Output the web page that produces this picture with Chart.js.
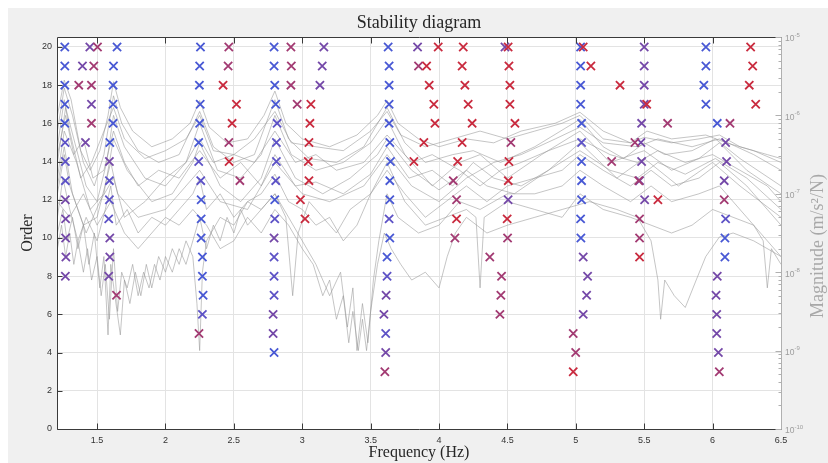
<!DOCTYPE html>
<html>
<head>
<meta charset="utf-8">
<title>Stability diagram</title>
<script src="https://cdn.jsdelivr.net/npm/chart.js@4.4.1/dist/chart.umd.min.js"></script>
<style>
  html, body { margin: 0; padding: 0; background: #fff; }
  #wrap { width: 828px; height: 463px; }
</style>
</head>
<body>
<div id="wrap"><canvas id="stab" width="828" height="463"></canvas></div>
<script>
// axis ticks
const freqTicks = [1.5, 2, 2.5, 3, 3.5, 4, 4.5, 5, 5.5, 6, 6.5];
const orderTicks = [0, 2, 4, 6, 8, 10, 12, 14, 16, 18, 20];
const magDecades = [-10, -9, -8, -7, -6, -5];

// poles [frequency Hz, model order], grouped by marker colour
const polesBlue = [
  [1.264, 20], [1.264, 19], [1.264, 18], [1.264, 17], [1.264, 16],
  [1.646, 20], [1.62, 19], [1.617, 18], [1.617, 17], [1.617, 16], [1.593, 15],
  [2.256, 20], [2.25, 19], [2.248, 18], [2.254, 17], [2.25, 16], [2.243, 15],
  [2.261, 12], [2.261, 11], [2.261, 10], [2.27, 9], [2.27, 8], [2.275, 7],
  [2.794, 20], [2.794, 19], [2.799, 18], [2.806, 17], [2.799, 12], [2.794, 4],
  [3.628, 20], [3.635, 19], [3.635, 18], [3.635, 17], [3.635, 16], [3.64, 15],
  [3.645, 14], [3.64, 13], [3.64, 12], [3.64, 10], [3.62, 9],
  [5.035, 20], [5.035, 19], [5.035, 18], [5.035, 17], [5.042, 16], [5.042, 14],
  [5.042, 13], [5.042, 12], [5.035, 11], [5.037, 10],
  [5.951, 20], [5.951, 19], [5.936, 18], [5.951, 17], [6.034, 16], [6.09, 10], [6.09, 9]
];
const polesBluePurple = [
  [1.266, 15], [1.268, 14], [1.268, 13],
  [1.59, 13], [1.59, 12], [1.585, 11],
  [2.243, 14], [2.258, 13], [2.27, 6],
  [2.816, 16], [2.811, 15], [2.811, 14], [2.806, 13], [2.799, 11], [2.794, 9], [2.794, 8], [2.794, 7],
  [3.635, 11], [3.62, 8], [3.61, 5],
  [5.042, 15],
  [6.095, 11]
];
const polesPurple = [
  [1.268, 12], [1.27, 11], [1.27, 10], [1.272, 9], [1.268, 8],
  [1.447, 20], [1.393, 19], [1.459, 17], [1.415, 15],
  [1.59, 14], [1.593, 10], [1.593, 9], [1.585, 8],
  [2.794, 10], [2.787, 6], [2.787, 5],
  [3.158, 20], [3.146, 19], [3.129, 18],
  [3.613, 7], [3.597, 6], [3.61, 4],
  [3.843, 20], [4.482, 20], [4.505, 12],
  [5.054, 9], [5.086, 8], [5.079, 7], [5.054, 6],
  [5.5, 20], [5.5, 19], [5.5, 18], [5.5, 17], [5.481, 16], [5.476, 15], [5.481, 14],
  [5.466, 13], [5.503, 12],
  [6.095, 15], [6.102, 14], [6.085, 13], [6.034, 8], [6.025, 7], [6.03, 6], [6.03, 5], [6.042, 4]
];
const polesRedPurple = [
  [1.503, 20], [1.476, 19], [1.366, 18], [1.459, 18], [1.459, 16],
  [1.642, 7], [2.245, 5],
  [2.463, 20], [2.458, 19], [2.463, 15], [2.544, 13],
  [2.917, 20], [2.92, 19], [2.917, 18], [2.963, 17],
  [3.604, 3], [3.85, 19],
  [4.104, 13], [4.128, 12], [4.116, 10],
  [4.371, 9], [4.457, 8], [4.452, 7], [4.445, 6],
  [4.525, 15], [4.501, 10],
  [4.981, 5], [4.999, 4], [5.262, 14],
  [5.671, 16], [5.432, 15], [5.46, 13], [5.466, 11], [5.466, 10],
  [6.127, 16], [6.085, 12], [6.049, 3]
];
const polesRed = [
  [2.421, 18], [2.519, 17], [2.487, 16], [2.465, 14],
  [3.063, 17], [3.056, 16], [3.049, 15], [3.044, 14], [3.049, 13], [2.987, 12], [3.02, 11],
  [3.994, 20], [3.909, 19], [3.928, 18], [3.962, 17], [3.97, 16], [3.889, 15], [3.816, 14],
  [4.177, 20], [4.169, 19], [4.189, 18], [4.213, 17], [4.242, 16], [4.169, 15], [4.136, 14], [4.128, 11],
  [4.505, 20], [4.511, 19], [4.518, 18], [4.518, 17], [4.555, 16], [4.511, 14], [4.506, 13], [4.498, 11],
  [5.054, 20], [5.11, 19], [5.323, 18], [4.981, 3],
  [5.518, 17], [5.6, 12], [5.466, 9],
  [6.278, 20], [6.293, 19], [6.268, 18], [6.315, 17]
];

// measured FRFs [frequency Hz, log10 magnitude]
const frf01 = [[1.21,-6.0],[1.26,-5.55],[1.31,-5.8],[1.38,-6.45],[1.45,-6.7],[1.52,-6.45],[1.58,-6.0],[1.62,-5.57],[1.67,-5.9],[1.76,-6.2],[1.9,-6.4],[2.05,-6.3],[2.18,-6.1],[2.25,-5.81],[2.32,-6.15],[2.45,-6.35],[2.6,-6.3],[2.72,-6.0],[2.8,-5.69],[2.88,-6.1],[3.0,-6.3],[3.2,-6.4],[3.4,-6.25],[3.55,-6.0],[3.62,-5.81],[3.7,-6.1],[3.85,-6.3],[4.0,-6.4],[4.2,-6.3],[4.4,-6.35],[4.6,-6.2],[4.85,-6.1],[5.03,-5.96],[5.2,-6.2],[5.4,-6.35],[5.5,-6.28],[5.7,-6.35],[5.9,-6.3],[6.05,-6.25],[6.2,-6.4],[6.4,-6.5],[6.5,-6.55]];
const frf02 = [[1.21,-6.2],[1.26,-5.65],[1.32,-6.0],[1.4,-6.6],[1.48,-6.9],[1.55,-6.5],[1.62,-5.75],[1.68,-6.1],[1.8,-6.45],[1.95,-6.6],[2.1,-6.5],[2.25,-5.95],[2.35,-6.4],[2.5,-6.6],[2.65,-6.5],[2.8,-5.8],[2.9,-6.3],[3.05,-6.55],[3.25,-6.6],[3.45,-6.4],[3.62,-5.9],[3.75,-6.35],[3.9,-6.6],[4.1,-6.5],[4.25,-6.45],[4.45,-6.6],[4.7,-6.4],[5.03,-6.05],[5.2,-6.4],[5.35,-6.55],[5.5,-6.35],[5.65,-6.5],[5.85,-6.45],[6.02,-6.3],[6.2,-6.55],[6.5,-6.9]];
const frf03 = [[1.21,-6.6],[1.27,-5.9],[1.33,-6.3],[1.42,-6.9],[1.5,-7.1],[1.57,-6.6],[1.62,-6.0],[1.7,-6.4],[1.85,-6.8],[2.0,-6.9],[2.15,-6.6],[2.25,-6.1],[2.38,-6.7],[2.55,-6.8],[2.7,-6.5],[2.8,-6.0],[2.92,-6.5],[3.1,-6.7],[3.3,-6.6],[3.5,-6.35],[3.62,-6.05],[3.75,-6.5],[3.95,-6.9],[4.15,-6.6],[4.3,-6.5],[4.5,-6.8],[4.75,-6.5],[5.03,-6.2],[5.25,-6.6],[5.5,-6.45],[5.7,-6.7],[5.9,-6.55],[6.05,-6.35],[6.25,-6.7],[6.5,-7.0]];
const frf04 = [[1.21,-6.8],[1.26,-6.2],[1.35,-6.6],[1.45,-7.2],[1.55,-7.0],[1.62,-6.3],[1.72,-6.7],[1.9,-7.1],[2.05,-7.0],[2.2,-6.6],[2.25,-6.35],[2.4,-6.9],[2.55,-7.1],[2.7,-6.8],[2.8,-6.3],[2.95,-6.8],[3.15,-7.0],[3.35,-6.8],[3.55,-6.5],[3.62,-6.3],[3.8,-6.7],[4.0,-6.95],[4.2,-6.7],[4.35,-6.9],[4.55,-7.0],[4.8,-6.7],[5.03,-6.35],[5.3,-6.8],[5.5,-6.55],[5.75,-6.9],[6.0,-6.6],[6.2,-6.9],[6.5,-7.3]];
const frf05 = [[1.21,-7.0],[1.26,-6.5],[1.3,-6.9],[1.4,-7.4],[1.5,-7.3],[1.6,-6.6],[1.65,-7.0],[1.8,-7.3],[2.0,-7.2],[2.25,-6.7],[2.4,-7.1],[2.6,-7.2],[2.8,-6.6],[3.0,-7.0],[3.2,-7.1],[3.45,-6.9],[3.62,-6.5],[3.8,-6.9],[4.0,-7.1],[4.2,-6.8],[4.4,-6.6],[4.6,-6.5],[4.85,-6.3],[5.03,-6.15],[5.2,-6.35],[5.45,-6.4],[5.6,-6.3],[5.85,-6.4],[6.05,-6.3],[6.3,-6.5],[6.5,-6.7]];
const frf06 = [[1.21,-6.4],[1.26,-5.8],[1.3,-6.2],[1.38,-6.8],[1.46,-6.6],[1.55,-6.2],[1.62,-5.9],[1.7,-6.3],[1.85,-6.55],[2.0,-6.45],[2.15,-6.3],[2.25,-6.0],[2.35,-6.45],[2.5,-6.5],[2.65,-6.3],[2.8,-5.95],[2.92,-6.35],[3.1,-6.4],[3.3,-6.45],[3.5,-6.2],[3.62,-5.95],[3.72,-6.25],[3.9,-6.4],[4.1,-6.3],[4.3,-6.2],[4.5,-6.3],[4.7,-6.2],[4.9,-6.1],[5.03,-6.0],[5.2,-6.3],[5.4,-6.35],[5.52,-6.2],[5.7,-6.3],[5.95,-6.25],[6.1,-6.35],[6.3,-6.45],[6.5,-6.6]];
const frf07 = [[1.21,-7.3],[1.25,-6.8],[1.3,-7.2],[1.36,-7.6],[1.42,-7.3],[1.5,-7.6],[1.56,-7.2],[1.6,-6.9],[1.64,-7.4],[1.72,-7.2],[1.8,-7.5],[1.9,-7.3],[2.0,-7.4],[2.1,-7.2],[2.2,-7.0],[2.25,-6.8],[2.3,-7.2],[2.4,-7.0],[2.5,-7.3],[2.6,-7.1],[2.7,-7.0],[2.8,-6.75],[2.9,-7.1],[3.0,-7.2],[3.1,-7.4],[3.2,-7.3],[3.3,-7.6],[3.4,-7.4],[3.5,-7.0],[3.62,-6.7],[3.75,-7.0],[3.9,-7.3],[4.05,-7.1],[4.2,-6.9],[4.35,-7.1],[4.5,-6.9],[4.7,-6.8],[4.9,-6.7],[5.03,-6.5],[5.2,-6.7],[5.4,-6.9],[5.55,-6.7],[5.7,-6.9],[5.9,-6.8],[6.05,-6.6],[6.25,-6.9],[6.4,-7.2],[6.5,-7.4]];
const frf08 = [[1.21,-7.7],[1.24,-7.4],[1.27,-7.8],[1.3,-7.5],[1.33,-7.9],[1.36,-7.6],[1.4,-8.0],[1.43,-7.7],[1.46,-8.1],[1.5,-7.8],[1.53,-8.3],[1.56,-7.9],[1.59,-8.6],[1.62,-7.7],[1.65,-8.5],[1.68,-8.0],[1.72,-8.2],[1.76,-7.9],[1.8,-8.3],[1.84,-8.0],[1.88,-8.2],[1.92,-7.9],[1.96,-8.1],[2.0,-7.8],[2.05,-8.0],[2.1,-7.7],[2.15,-7.9],[2.2,-7.6],[2.25,-7.3],[2.3,-7.7],[2.35,-7.4],[2.4,-7.6],[2.45,-7.3],[2.5,-7.5],[2.55,-7.2],[2.6,-7.4],[2.7,-7.2],[2.8,-7.0],[2.9,-7.3],[3.0,-7.6],[3.1,-7.9],[3.2,-8.3],[3.28,-8.0],[3.33,-8.7],[3.37,-8.2],[3.4,-9.0],[3.44,-8.4],[3.48,-8.9],[3.52,-8.1],[3.56,-7.6],[3.62,-7.0],[3.7,-7.3],[3.85,-7.5],[4.0,-7.4],[4.15,-7.1],[4.3,-7.2],[4.5,-7.0],[4.7,-7.0],[4.9,-6.9],[5.03,-6.7],[5.2,-6.9],[5.4,-7.1],[5.55,-6.9],[5.7,-7.1],[5.9,-7.0],[6.05,-6.9],[6.25,-7.3],[6.4,-7.6],[6.5,-7.8]];
const frf09 = [[1.21,-7.5],[1.25,-7.2],[1.28,-7.6],[1.32,-7.3],[1.36,-7.7],[1.4,-7.4],[1.44,-7.9],[1.48,-7.5],[1.52,-8.2],[1.55,-7.8],[1.58,-8.8],[1.6,-7.9],[1.63,-8.3],[1.67,-8.8],[1.7,-8.1],[1.74,-8.4],[1.78,-8.0],[1.82,-8.3],[1.86,-7.9],[1.9,-8.2],[1.95,-7.8],[2.0,-8.0],[2.05,-7.7],[2.1,-7.9],[2.15,-7.6],[2.2,-7.8],[2.23,-8.4],[2.25,-9.0],[2.27,-8.0],[2.3,-7.6],[2.4,-7.3],[2.5,-7.4],[2.6,-7.1],[2.7,-7.2],[2.8,-7.0],[2.88,-7.3],[2.93,-8.3],[2.97,-7.5],[3.05,-7.1],[3.15,-7.3],[3.25,-7.5],[3.35,-7.2],[3.5,-7.0],[3.62,-6.6],[3.75,-7.1],[3.9,-7.4],[4.05,-7.3],[4.2,-7.2],[4.27,-7.3],[4.3,-8.2],[4.33,-7.3],[4.5,-7.1],[4.7,-7.2],[4.9,-7.3],[5.03,-7.0],[5.2,-7.2],[5.4,-7.3],[5.55,-7.4],[5.7,-7.5],[5.85,-7.4],[6.0,-7.2],[6.15,-7.3],[6.3,-7.4],[6.37,-7.6],[6.4,-8.2],[6.43,-7.7],[6.5,-7.9]];
const frf10 = [[1.21,-7.1],[1.3,-7.3],[1.4,-7.0],[1.5,-7.4],[1.6,-7.1],[1.7,-7.5],[1.8,-7.7],[1.9,-7.5],[2.0,-7.3],[2.1,-7.4],[2.2,-7.2],[2.3,-7.4],[2.4,-7.7],[2.5,-7.6],[2.6,-7.3],[2.7,-7.5],[2.8,-7.2],[2.9,-7.4],[3.0,-7.7],[3.08,-7.9],[3.15,-8.3],[3.2,-8.1],[3.25,-8.6],[3.3,-8.3],[3.34,-8.9],[3.37,-8.5],[3.41,-9.0],[3.44,-8.6],[3.47,-9.0],[3.5,-8.5],[3.55,-7.9],[3.6,-7.5],[3.65,-7.7],[3.72,-7.9],[3.8,-8.1],[3.9,-8.0],[4.0,-8.2],[4.06,-7.8],[4.12,-7.5],[4.2,-7.3],[4.35,-7.5],[4.5,-7.4],[4.7,-7.3],[4.9,-7.2],[5.1,-7.1],[5.3,-7.2],[5.45,-7.3],[5.55,-7.6],[5.6,-8.1],[5.62,-8.6],[5.65,-8.1],[5.72,-8.3],[5.8,-8.45],[5.88,-8.1],[5.95,-7.8],[6.05,-7.55],[6.15,-7.5],[6.3,-7.6],[6.5,-7.8]];
const frf11 = [[1.21,-6.9],[1.26,-6.4],[1.32,-7.0],[1.42,-7.5],[1.52,-7.1],[1.62,-6.8],[1.7,-7.3],[1.85,-7.1],[2.0,-6.8],[2.15,-6.6],[2.25,-6.3],[2.35,-6.6],[2.5,-6.5],[2.65,-6.6],[2.8,-6.2],[2.95,-6.6],[3.1,-6.5],[3.25,-6.7],[3.45,-6.6],[3.62,-6.25],[3.8,-6.6],[3.95,-6.5],[4.15,-6.7],[4.3,-6.9],[4.45,-6.7],[4.6,-6.6],[4.8,-6.45],[5.03,-6.3],[5.25,-6.5],[5.45,-6.6],[5.6,-6.45],[5.8,-6.6],[6.0,-6.5],[6.2,-6.7],[6.4,-6.9],[6.5,-7.1]];
const frf12 = [[1.21,-6.5],[1.27,-6.0],[1.33,-6.5],[1.4,-6.3],[1.47,-6.8],[1.55,-6.7],[1.62,-6.2],[1.7,-6.6],[1.8,-6.9],[1.95,-6.7],[2.1,-6.8],[2.25,-6.45],[2.4,-6.8],[2.55,-6.6],[2.7,-6.9],[2.8,-6.5],[2.95,-6.9],[3.1,-6.85],[3.3,-7.0],[3.5,-6.75],[3.62,-6.4],[3.78,-6.8],[3.95,-6.7],[4.1,-6.9],[4.25,-6.6],[4.4,-6.8],[4.6,-6.9],[4.8,-6.7],[5.03,-6.45],[5.25,-6.7],[5.45,-6.8],[5.6,-6.6],[5.8,-6.75],[6.02,-6.55],[6.25,-6.8],[6.5,-7.2]];

const frfCurves = [frf01, frf02, frf03, frf04, frf05, frf06, frf07, frf08, frf09, frf10, frf11, frf12];

const poleGroups = [
  { pts: polesRed, color: '#c92a3e' },
  { pts: polesRedPurple, color: '#a23a72' },
  { pts: polesPurple, color: '#7448a8' },
  { pts: polesBluePurple, color: '#5d52c6' },
  { pts: polesBlue, color: '#4858d4' },
];

const serif = '"Liberation Serif", "Times New Roman", serif';
const sans = '"Liberation Sans", Arial, sans-serif';

// matlab style frame, inward ticks, titles
const figureDecor = {
  id: 'figureDecor',
  beforeDraw(chart) {
    const { ctx, chartArea: a } = chart;
    ctx.save();
    ctx.fillStyle = '#ffffff';
    ctx.fillRect(0, 0, chart.width, chart.height);
    ctx.fillStyle = '#f0f0f0';
    ctx.fillRect(8, 8, chart.width - 8, chart.height - 8);
    ctx.fillStyle = '#ffffff';
    ctx.fillRect(a.left, a.top, a.right - a.left, a.bottom - a.top);
    ctx.restore();
  },
  afterDraw(chart) {
    const { ctx, chartArea: a, scales } = chart;
    const L = Math.round(a.left) + 0.5, R = Math.round(a.right) + 0.5;
    const T = Math.round(a.top) + 0.5, B = Math.round(a.bottom) + 0.5;
    ctx.save();
    ctx.lineWidth = 1;

    ctx.strokeStyle = '#3a3a3a';
    ctx.beginPath();
    ctx.moveTo(R, T); ctx.lineTo(L, T); ctx.lineTo(L, B); ctx.lineTo(R, B);
    freqTicks.forEach(v => {
      const x = Math.round(scales.x.getPixelForValue(v)) + 0.5;
      ctx.moveTo(x, B); ctx.lineTo(x, B - 6);
      ctx.moveTo(x, T); ctx.lineTo(x, T + 6);
    });
    orderTicks.forEach(v => {
      const y = Math.round(scales.y.getPixelForValue(v)) + 0.5;
      ctx.moveTo(L, y); ctx.lineTo(L + 5, y);
    });
    ctx.stroke();

    // right log axis
    ctx.strokeStyle = '#b0b0b0';
    ctx.beginPath();
    ctx.moveTo(R, T); ctx.lineTo(R, B);
    magDecades.forEach(n => {
      for (let k = 1; k <= 9; k++) {
        const v = k * Math.pow(10, n);
        if (v > 1.0001e-5) break;
        const y = Math.round(scales.y2.getPixelForValue(v)) + 0.5;
        ctx.moveTo(R, y); ctx.lineTo(R - (k === 1 ? 6 : 3), y);
      }
    });
    ctx.stroke();

    ctx.fillStyle = '#9c9c9c';
    ctx.textAlign = 'left';
    ctx.textBaseline = 'middle';
    magDecades.forEach(n => {
      const y = scales.y2.getPixelForValue(Math.pow(10, n));
      ctx.font = '8.5px ' + sans;
      ctx.fillText('10', a.right + 4, y + 2);
      const w = ctx.measureText('10').width;
      ctx.font = '6px ' + sans;
      ctx.fillText('-' + Math.abs(n), a.right + 4 + w, y - 2);
    });

    // titles
    const cx = (a.left + a.right) / 2, cy = (a.top + a.bottom) / 2;
    ctx.fillStyle = '#262626';
    ctx.textAlign = 'center';
    ctx.textBaseline = 'alphabetic';
    ctx.font = '18px ' + serif;
    ctx.fillText('Stability diagram', cx, 28);
    ctx.font = '16px ' + serif;
    ctx.fillText('Frequency (Hz)', cx, 457);

    ctx.textBaseline = 'middle';
    ctx.save();
    ctx.translate(28, cy);
    ctx.rotate(-Math.PI / 2);
    ctx.fillText('Order', 0, 0);
    ctx.restore();

    ctx.save();
    ctx.fillStyle = '#a8a8a8';
    ctx.font = '18px ' + serif;
    ctx.translate(818, 246);
    ctx.rotate(-Math.PI / 2);
    ctx.fillText('Magnitude (m/s\u00B2/N)', 0, 0);
    ctx.restore();

    ctx.restore();
  }
};

const datasets = [];
poleGroups.forEach(g => {
  datasets.push({
    data: g.pts.map(([f, o]) => ({ x: f, y: o })),
    yAxisID: 'y',
    showLine: false,
    pointStyle: 'crossRot',
    pointRadius: 5.8,
    pointBorderWidth: 1.8,
    pointBorderColor: g.color,
    pointBackgroundColor: g.color,
    order: 0,
  });
});
frfCurves.forEach(c => {
  datasets.push({
    data: c.map(([f, l]) => ({ x: f, y: Math.pow(10, l) })),
    yAxisID: 'y2',
    showLine: true,
    borderColor: 'rgba(150,150,150,0.55)',
    borderWidth: 1,
    pointRadius: 0,
    tension: 0,
    order: 1,
  });
});

new Chart(document.getElementById('stab'), {
  type: 'scatter',
  data: { datasets },
  options: {
    responsive: false,
    animation: false,
    events: [],
    layout: { padding: { top: 37, left: 0, right: 0, bottom: 0 } },
    plugins: {
      legend: { display: false },
      tooltip: { enabled: false },
    },
    scales: {
      x: {
        type: 'linear',
        min: 1.207,
        max: 6.5,
        afterBuildTicks: s => { s.ticks = freqTicks.map(v => ({ value: v })); },
        afterFit: s => { s.height = 34; },
        ticks: {
          callback: v => String(v),
          font: { family: sans, size: 9 },
          color: '#333333',
          padding: 6,
          maxRotation: 0,
          autoSkip: false,
        },
        grid: { color: '#e3e3e3', drawTicks: false },
        border: { display: false },
      },
      y: {
        type: 'linear',
        position: 'left',
        min: 0,
        max: 20.52,
        afterBuildTicks: s => { s.ticks = orderTicks.map(v => ({ value: v })); },
        afterFit: s => { s.width = 57; },
        ticks: {
          font: { family: sans, size: 9 },
          color: '#333333',
          padding: 5,
          autoSkip: false,
        },
        grid: { color: '#e3e3e3', drawTicks: false },
        border: { display: false },
      },
      y2: {
        type: 'logarithmic',
        position: 'right',
        min: 1e-10,
        max: 1e-5,
        afterFit: s => { s.width = 47; },
        ticks: { display: false },
        grid: { display: false, drawTicks: false },
        border: { display: false },
      },
    },
  },
  plugins: [figureDecor],
});
</script>
</body>
</html>
